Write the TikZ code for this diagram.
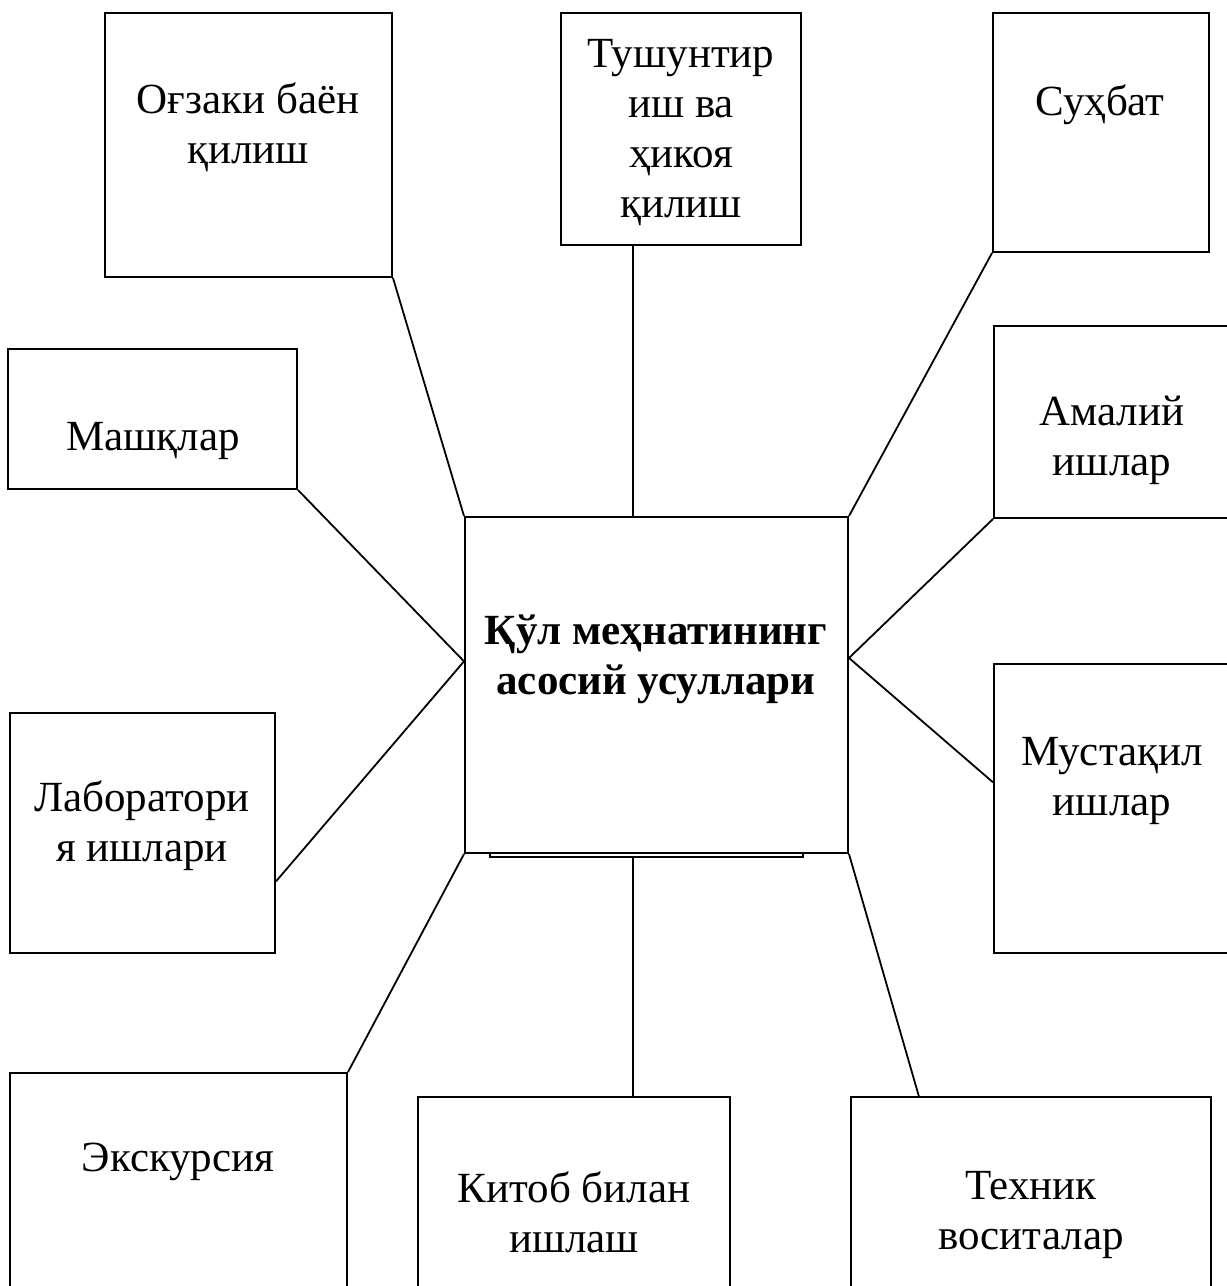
\documentclass[tikz,border=0pt]{standalone}
\usepackage{fontspec}
\setmainfont{Liberation Serif}
\usetikzlibrary{calc,fit}

\begin{document}
\begin{tikzpicture}[x=0.5pt, y=-0.5pt,
		box/.style={draw, line width=1pt, inner sep=0pt},
		txt/.style={align=center, inner sep=0pt, font=\fontsize{21.5}{25}\selectfont},
		link/.style={line width=0.9pt}]
	%%%%% START %%%%%
	
	\clip (0,0) rectangle (1227,1286);
	
	% top row
	\node[box, fit={(105,13) (392,277)}] (oral) {};
	\node[box, fit={(561,13) (801,245)}] (expl) {};
	\node[box, fit={(993,13) (1209,252)}] (talk) {};
	
	% middle
	\node[box, fit={(8,349) (297,489)}] (exer) {};
	\node[box, fit={(994,326) (1232,518)}] (prac) {};
	\node[box, fit={(465,517) (848,853)}] (main) {};
	\node[box, fit={(490,853) (803,857)}] (base) {};
	\node[box, fit={(10,713) (275,953)}] (lab) {};
	\node[box, fit={(994,664) (1232,953)}] (indep) {};
	
	% bottom row
	\node[box, fit={(10,1073) (347,1300)}] (excur) {};
	\node[box, fit={(418,1097) (730,1300)}] (book) {};
	\node[box, fit={(851,1097) (1211,1300)}] (tech) {};
	
	% texts
	\node[txt] (oral-t) at (248,127) {Оғзаки баён\\қилиш};
	\node[txt] (expl-t) at (681,133) {Тушунтир\\иш ва\\ҳикоя\\қилиш};
	\node[txt] (talk-t) at (1100,105) {Суҳбат};
	\node[txt] (exer-t) at (153,441) {Машқлар};
	\node[txt] (prac-t) at (1112,440) {Амалий\\ишлар};
	\node[txt, font=\fontsize{21.5}{25}\selectfont\bfseries] (main-t) at (656,659) {Қўл меҳнатининг\\асосий усуллари};
	\node[txt] (lab-t) at (142,826) {Лаборатори\\я ишлари};
	\node[txt] (indep-t) at (1112,781) {Мустақил\\ишлар};
	\node[txt] (excur-t) at (178,1162) {Экскурсия};
	\node[txt] (book-t) at (574,1212) {Китоб билан\\ишлаш};
	\node[txt] (tech-t) at (1031,1215) {Техник\\воситалар};
	
	% connectors
	\coordinate (vx) at ($(expl.south west)!0.3!(expl.south east)$);
	\coordinate (ml) at ($(main.north west)!0.43!(main.south west)$);
	\coordinate (mr) at ($(main.north east)!0.42!(main.south east)$);
	
	\draw[link] (oral.south east) -- (main.north west);
	\draw[link] (vx) -- (vx |- main.north);
	\draw[link] (talk.south west) -- (main.north east);
	\draw[link] (exer.south east) -- (ml);
	\draw[link] ($(lab.north east)!0.7!(lab.south east)$) -- (ml);
	\draw[link] (prac.south west) -- (mr);
	\draw[link] ($(indep.north west)!0.41!(indep.south west)$) -- (mr);
	\draw[link] (excur.north east) -- (main.south west);
	\draw[link] (vx |- base.south) -- (vx |- book.north);
	\draw[link] ($(tech.north west)!0.19!(tech.north east)$) -- (main.south east);
	
	%%%%% END %%%%%
\end{tikzpicture}
\end{document}
